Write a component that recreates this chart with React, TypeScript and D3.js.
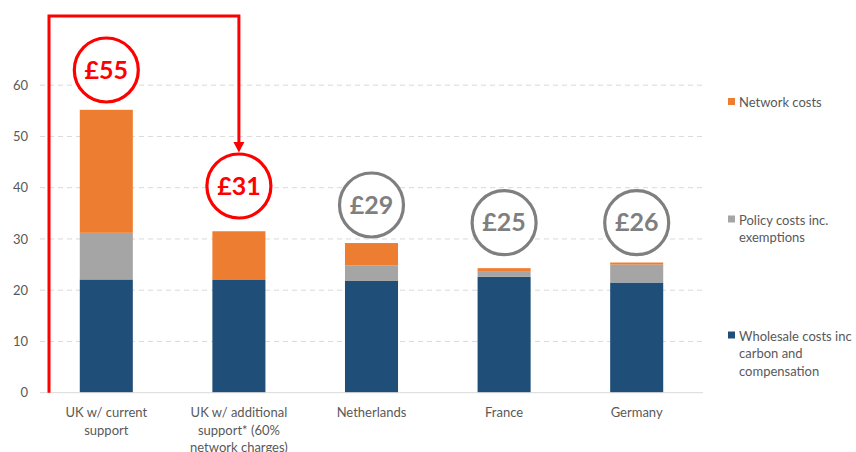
import React from "react";
import * as d3 from "d3";

const categories = [
  ["UK w/ current", "support"],
  ["UK w/ additional", "support* (60%", "network charges)"],
  ["Netherlands"],
  ["France"],
  ["Germany"],
];
const wholesale = [22.1, 22.1, 21.8, 22.6, 21.5];
const policy = [9.1, 0, 3.0, 1.0, 3.5];
const network = [24.0, 9.4, 4.4, 0.7, 0.4];
const totalLabels = ["£55", "£31", "£29", "£25", "£26"];
const highlighted = [true, true, false, false, false];
const yTicks = [0, 10, 20, 30, 40, 50, 60];
const seriesNames = [
  ["Network costs"],
  ["Policy costs inc.", "exemptions"],
  ["Wholesale costs inc", "carbon and", "compensation"],
];
const seriesColors = ["#ED7D31", "#A5A5A5", "#1F4E79"];

const W = 856;
const H = 452;
const FONT = "Lato, 'Open Sans', sans-serif";

export default function App() {
  const x = d3
    .scaleBand<number>()
    .domain(categories.map((_, i) => i))
    .range([40, 703])
    .paddingInner(0.6)
    .paddingOuter(0.3);
  const y = d3.scaleLinear().domain([0, 60]).range([392.7, 85.2]);

  const stackData = categories.map((_, i) => ({
    i,
    wholesale: wholesale[i],
    policy: policy[i],
    network: network[i],
  }));
  const stack = d3.stack<any>().keys(["wholesale", "policy", "network"]);
  const layers = stack(stackData);
  const layerColor: Record<string, string> = {
    wholesale: seriesColors[2],
    policy: seriesColors[1],
    network: seriesColors[0],
  };

  // circle centre offsets for annotations (centre y in value units above bar top)
  const circleCy = [70, 186, 205, 222.7, 222.7];
  const r = 32;
  const arrowX = x(1)! + x.bandwidth() / 2;
  const bracketLeft = 49;
  const topY = 16;

  return (
    <svg
      width={W}
      height={H}
      style={{ position: "absolute", left: 0, top: 0, background: "#fff" }}
      fontFamily={FONT}
    >
      {/* gridlines */}
      {yTicks.map((t) =>
        t === 0 ? null : (
          <line
            key={t}
            x1={40}
            x2={703}
            y1={y(t)}
            y2={y(t)}
            stroke="#d9d9d9"
            strokeWidth={1}
            strokeDasharray="5,4"
          />
        )
      )}
      {/* y tick labels */}
      {yTicks.map((t) => (
        <text
          key={"yl" + t}
          x={28}
          y={y(t)}
          dy="0.35em"
          textAnchor="end"
          fontSize={13}
          fill="#595959"
        >
          {t}
        </text>
      ))}
      {/* bars */}
      {layers.map((layer) =>
        layer.map((d, i) => (
          <rect
            key={layer.key + i}
            x={x(i)!}
            width={x.bandwidth()}
            y={y(d[1])}
            height={Math.max(0, y(d[0]) - y(d[1]))}
            fill={layerColor[layer.key]}
          />
        ))
      )}
      {/* x axis line */}
      <line x1={40} x2={703} y1={y(0)} y2={y(0)} stroke="#d9d9d9" strokeWidth={1} />
      {/* x labels */}
      {categories.map((lines, i) =>
        lines.map((ln, j) => (
          <text
            key={"xl" + i + j}
            x={x(i)! + x.bandwidth() / 2}
            y={417 + j * 17.5}
            textAnchor="middle"
            fontSize={13}
            fill="#595959"
          >
            {ln}
          </text>
        ))
      )}
      {/* legend */}
      {seriesNames.map((lines, k) => {
        const baseY = [107, 224.5, 340.5][k];
        return (
          <g key={"lg" + k}>
            <rect x={728} y={baseY - 9} width={7} height={7} fill={seriesColors[k]} />
            {lines.map((ln, j) => (
              <text key={j} x={739} y={baseY + j * 17.7} fontSize={13} fill="#595959">
                {ln}
              </text>
            ))}
          </g>
        );
      })}
      {/* red bracket & arrow */}
      <path
        d={`M${bracketLeft},${y(0)} L${bracketLeft},${topY} L${arrowX},${topY} L${arrowX},${circleCy[1] - r - 10}`}
        fill="none"
        stroke="#FF0000"
        strokeWidth={3}
        strokeLinejoin="miter"
      />
      <path
        d={`M${arrowX - 5.5},${circleCy[1] - r - 12} L${arrowX + 5.5},${circleCy[1] - r - 12} L${arrowX},${circleCy[1] - r - 1.5} Z`}
        fill="#FF0000"
      />
      {/* total circles */}
      {totalLabels.map((lab, i) => {
        const cx = x(i)! + x.bandwidth() / 2;
        const col = highlighted[i] ? "#FF0000" : "#7F7F7F";
        return (
          <g key={"c" + i}>
            <circle cx={cx} cy={circleCy[i]} r={r} fill="#fff" stroke={col} strokeWidth={3.2} />
            <text
              x={cx}
              y={circleCy[i]}
              dy="0.35em"
              textAnchor="middle"
              fontSize={25}
              fontWeight="bold"
              fill={col}
            >
              {lab}
            </text>
          </g>
        );
      })}
    </svg>
  );
}
